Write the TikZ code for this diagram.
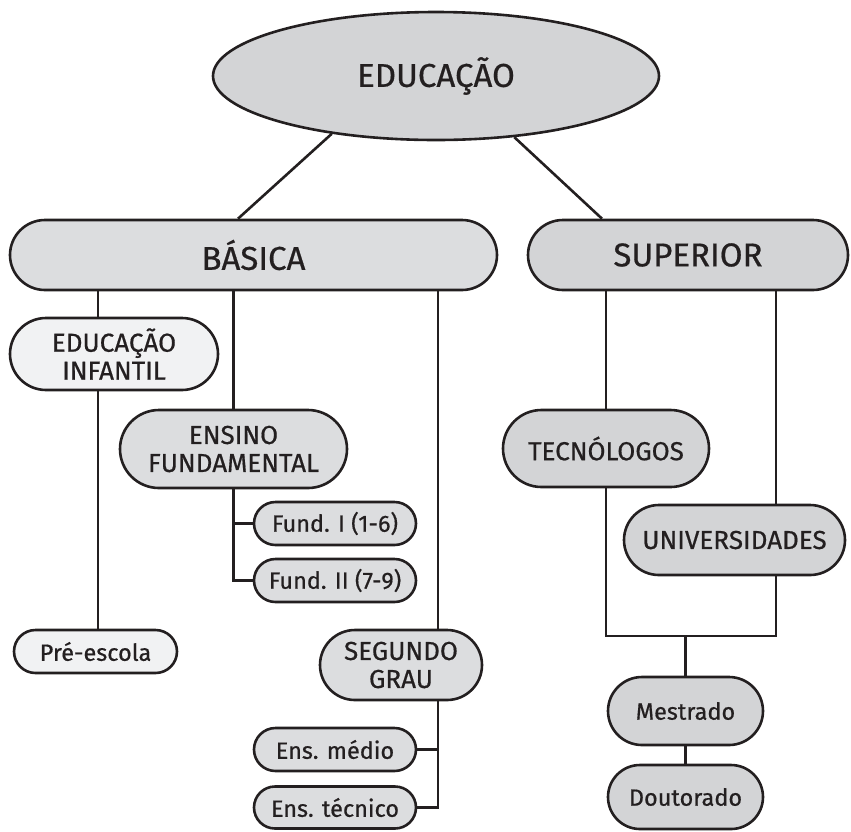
\documentclass[tikz,border=0pt]{standalone}
\usepackage{fontspec}
\setmainfont{Fira Sans}[FakeBold=0.6]
\usetikzlibrary{shapes.geometric,calc}
\definecolor{ink}{HTML}{231F20}
\definecolor{midgray}{HTML}{D3D4D6}
\definecolor{boxgray}{HTML}{DCDDDF}
\definecolor{palegray}{HTML}{F1F2F3}
\tikzset{
  pill/.style args={#1/#2}{draw=ink, line width=2.6pt, rounded corners=#2*0.5pt,
    minimum width=#1pt, minimum height=#2pt, inner sep=0pt, align=center, text=ink},
  big/.style={font=\fontsize{33}{36}\selectfont},
  mid/.style={font=\fontsize{26}{28}\selectfont},
  small/.style={font=\fontsize{23.5}{26}\selectfont},
  link/.style={draw=ink, line width=2.6pt}
}
\begin{document}
\begin{tikzpicture}[x=1pt,y=-1pt]
\useasboundingbox (0,0) rectangle (851,831);
\node[ellipse, draw=ink, line width=2.6pt, fill=midgray, minimum width=446pt, minimum height=128pt, inner sep=0pt, text=ink, big] (edu) at (436,76) {EDUCAÇÃO};
\node[pill=487/70, fill=boxgray, big] (basica) at (253.5,255) {BÁSICA};
\node[pill=320/70, fill=midgray, big] (superior) at (688,255) {SUPERIOR};
\node[pill=208/72, fill=palegray, mid] (einf) at (114,354) {EDUCAÇÃO\\INFANTIL};
\node[pill=163/43, fill=palegray, small] (pre) at (95.5,651.5) {Pré-escola};
\node[pill=227/78, fill=boxgray, mid] (ensf) at (233.5,449) {ENSINO\\FUNDAMENTAL};
\node[pill=162/43, fill=boxgray, small] (f1) at (335,523.5) {Fund. I (1-6)};
\node[pill=162/43, fill=boxgray, small] (f2) at (335,580.5) {Fund. II (7-9)};
\node[pill=162/70, fill=boxgray, mid] (sg) at (401,665) {SEGUNDO\\GRAU};
\node[pill=162/43, fill=boxgray, small] (em) at (335,749.5) {Ens. médio};
\node[pill=162/42, fill=boxgray, small] (et) at (335,807.5) {Ens. técnico};
\node[pill=206/77, fill=midgray, mid] (tec) at (606,448.5) {TECNÓLOGOS};
\node[pill=221/70, fill=midgray, mid] (uni) at (734.5,540) {UNIVERSIDADES};
\node[pill=155/68, fill=midgray, small] (mes) at (685.5,711) {Mestrado};
\node[pill=155/64, fill=midgray, small] (dou) at (685.5,797) {Doutorado};
\coordinate (bar) at (685.5,636);
% connectors
\draw[link] (edu.209) -- ([xshift=-15.5pt]basica.north);
\draw[link] (edu.-38) -- ([xshift=-86pt]superior.north);
\draw[link] ([xshift=-16pt]einf.north) -- ([xshift=-16pt]einf.north |- basica.south);
\draw[link] ([xshift=-16pt]einf.south) -- ([xshift=-16pt]einf.south |- pre.north);
\draw[link] (ensf.north) -- (ensf.north |- basica.south);
\draw[link] (ensf.south) |- (f1.west);
\draw[link] (ensf.south) |- (f2.west);
\draw[link] ([xshift=37pt]sg.north) -- ([xshift=37pt]sg.north |- basica.south);
\draw[link] ([xshift=37pt]sg.south) |- (em.east);
\draw[link] ([xshift=37pt]sg.south) |- (et.east);
\draw[link] (tec.north) -- (tec.north |- superior.south);
\draw[link] ([xshift=41.5pt]uni.north) -- ([xshift=41.5pt]uni.north |- superior.south);
\draw[link] (tec.south) |- (bar) -| ([xshift=41.5pt]uni.south);
\draw[link] (bar) -- (mes.north);
\draw[link] (mes.south) -- (dou.north);
\end{tikzpicture}
\end{document}
